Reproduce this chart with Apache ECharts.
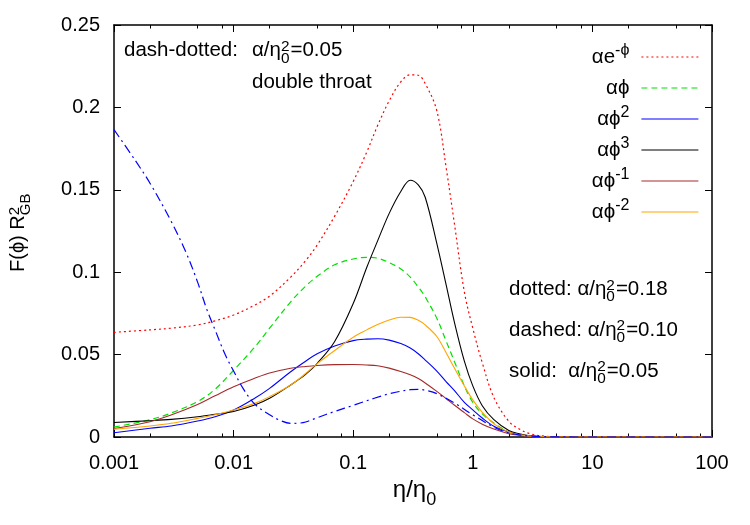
<!DOCTYPE html>
<html><head><meta charset="utf-8">
<script src="https://cdn.jsdelivr.net/npm/echarts@6/dist/echarts.min.js"></script>
<style>html,body{margin:0;padding:0;background:#fff}#chart{width:750px;height:525px}</style>
</head><body><div id="chart"></div>
<script>
// ---------------- data ----------------
const eta = [0.001, 0.002, 0.003, 0.005, 0.007, 0.01, 0.015, 0.02, 0.03, 0.04, 0.05, 0.07, 0.1, 0.13, 0.16, 0.2, 0.25, 0.3, 0.35, 0.4, 0.5, 0.6, 0.7, 0.85, 1, 1.2, 1.5, 2, 2.5, 3, 4, 6, 10, 100];
const expPhi = [0.0635, 0.065, 0.066, 0.068, 0.0705, 0.074, 0.080, 0.0855, 0.097, 0.107, 0.1165, 0.134, 0.155, 0.173, 0.189, 0.204, 0.2155, 0.2198, 0.2195, 0.2145, 0.198, 0.163, 0.13, 0.088, 0.066, 0.045, 0.024, 0.0095, 0.0045, 0.002, 0.0005, 0.0001, 0, 0];
const phi1 = [0.006, 0.0105, 0.0145, 0.0215, 0.029, 0.0405, 0.0545, 0.066, 0.082, 0.0915, 0.0975, 0.1045, 0.108, 0.109, 0.1085, 0.1058, 0.102, 0.097, 0.091, 0.085, 0.072, 0.058, 0.046, 0.031, 0.021, 0.014, 0.0085, 0.003, 0.0012, 0.0005, 0.0001, 0, 0, 0];
const phi2 = [0.0026, 0.0053, 0.0067, 0.0097, 0.0123, 0.0164, 0.0235, 0.0295, 0.0396, 0.046, 0.0505, 0.0552, 0.0585, 0.0594, 0.0596, 0.0588, 0.0567, 0.054, 0.0505, 0.0467, 0.040, 0.0335, 0.0283, 0.021, 0.0165, 0.0115, 0.0065, 0.003, 0.0013, 0.0006, 0.0001, 0, 0, 0];
const phi3 = [0.0088, 0.0099, 0.0107, 0.0123, 0.0138, 0.0155, 0.0194, 0.0235, 0.0316, 0.038, 0.0447, 0.058, 0.081, 0.103, 0.119, 0.1357, 0.149, 0.1558, 0.153, 0.1455, 0.1175, 0.092, 0.070, 0.046, 0.031, 0.019, 0.0105, 0.004, 0.0018, 0.0008, 0.0002, 0, 0, 0];
const phiM1 = [0.0052, 0.0093, 0.0133, 0.0197, 0.025, 0.0305, 0.0356, 0.0388, 0.0417, 0.0428, 0.0434, 0.0439, 0.044, 0.0437, 0.0432, 0.0418, 0.0398, 0.0378, 0.0355, 0.0328, 0.0277, 0.0232, 0.0194, 0.0148, 0.011, 0.0078, 0.0048, 0.002, 0.001, 0.0005, 0.0001, 0, 0, 0];
const phiM2 = [0.0047, 0.0067, 0.0083, 0.0113, 0.0135, 0.0164, 0.0204, 0.0245, 0.0316, 0.0385, 0.0445, 0.0525, 0.0605, 0.065, 0.0683, 0.071, 0.0727, 0.0726, 0.0708, 0.068, 0.061, 0.051, 0.042, 0.031, 0.0225, 0.015, 0.008, 0.003, 0.0013, 0.0006, 0.0001, 0, 0, 0];
// double throat (dash-dotted)
const throatEta = [0.001, 0.0015, 0.002, 0.003, 0.004, 0.005, 0.006, 0.007, 0.0085, 0.01, 0.012, 0.015, 0.02, 0.025, 0.03, 0.035, 0.04, 0.05, 0.07, 0.1, 0.15, 0.2, 0.3, 0.35, 0.4, 0.5, 0.7, 1, 1.5, 2, 3, 5, 10, 100];
const throat = [0.1865, 0.168, 0.154, 0.131, 0.112, 0.094, 0.077, 0.065, 0.050, 0.040, 0.0295, 0.020, 0.0135, 0.0098, 0.0083, 0.0084, 0.0091, 0.0117, 0.0155, 0.0192, 0.0235, 0.0262, 0.0287, 0.0289, 0.0284, 0.0263, 0.0207, 0.0135, 0.006, 0.0025, 0.0006, 0.0001, 0, 0];

const xTickValues = [0.001, 0.01, 0.1, 1, 10, 100];
const xTickLabels = ['0.001', '0.01', '0.1', '1', '10', '100'];
const xMinorMultipliers = [2, 5, 8];
const yTickLabels = ['0', '0.05', '0.1', '0.15', '0.2', '0.25'];

const PHI = '\u03d5';
const legendMain = ['\u03b1e', '\u03b1' + PHI, '\u03b1' + PHI, '\u03b1' + PHI, '\u03b1' + PHI, '\u03b1' + PHI];
const legendSup  = ['-' + PHI, '', '2', '3', '-1', '-2'];

// ---------------- helpers ----------------
const FONT = '"Liberation Sans", Arial, Helvetica, sans-serif';
const mctx = document.createElement('canvas').getContext('2d');
function tw(s, size) { mctx.font = size + 'px ' + FONT; return mctx.measureText(s).width; }
const MID = 0.31, SUPS = 0.75, SUPR = 0.27, SUBD = 0.3;
function mathGroup(parts, x, y, size, rotation) {
  const children = []; let cx = 0;
  function put(s, fs, dy) {
    children.push({ type: 'text', x: cx, y: dy - MID * fs, silent: true,
      style: { text: s, fontSize: fs, fontFamily: FONT, fill: '#000', align: 'left', verticalAlign: 'middle' } });
  }
  parts.forEach(p => {
    if (typeof p === 'string') { put(p, size, 0); cx += tw(p, size); }
    else {
      const fs = size * SUPS; let w = 0;
      if (p.sup) { put(p.sup, fs, -SUPR * size); w = Math.max(w, tw(p.sup, fs)); }
      if (p.sub) { put(p.sub, fs, SUBD * size); w = Math.max(w, tw(p.sub, fs)); }
      cx += w + 1;
    }
  });
  return { type: 'group', x: x, y: y, rotation: rotation || 0, children: children, silent: true, width: cx };
}
function mathWidth(parts, size) { return mathGroup(parts, 0, 0, size).width; }

const pair = (xs, ys) => xs.map((x, i) => [x, ys[i]]);
const names = legendMain.map((m, i) => m + (legendSup[i] ? '^' + legendSup[i] : ''));

const minorLog = [];
for (let d = -3; d < 2; d++) xMinorMultipliers.forEach(m => minorLog.push(d + Math.log10(m)));

const tickStyle = { show: true, inside: true, length: 7, lineStyle: { color: '#000', width: 1 } };
const minorTickStyle = { show: true, inside: true, length: 3.5, lineStyle: { color: '#000', width: 1 }, customValues: minorLog };
const lineAx = { show: true, onZero: false, lineStyle: { color: '#000', width: 1.5 } };

function xLabel(v) {
  const l = Math.log10(v);
  for (let i = 0; i < xTickValues.length; i++) if (Math.abs(Math.log10(xTickValues[i]) - l) < 0.01) return xTickLabels[i];
  return '';
}

const chart = echarts.init(document.getElementById('chart'), null, { renderer: 'canvas' });

const xTitleParts = ['\u03b7/\u03b7', { sub: '0' }];
const xTitleW = mathWidth(xTitleParts, 24);
const A = '\u03b1/\u03b7';
const TS = 20.5;

const option = {
  animation: false,
  backgroundColor: '#fff',
  grid: { left: 114, right: 38, top: 25, bottom: 88 },
  xAxis: [
    { type: 'log', logBase: 10, min: 0.001, max: 100, position: 'bottom', axisLine: lineAx, axisTick: tickStyle,
      splitLine: { show: false }, axisLabel: { color: '#000', fontSize: 20, fontFamily: FONT, margin: 16, formatter: xLabel } },
    { type: 'log', logBase: 10, min: 0.001, max: 100, position: 'top', axisLine: lineAx, axisTick: tickStyle,
      splitLine: { show: false }, axisLabel: { show: false } },
    { type: 'value', min: -3, max: 2, position: 'bottom', axisLine: { show: false, onZero: false }, axisTick: minorTickStyle,
      splitLine: { show: false }, axisLabel: { show: false } },
    { type: 'value', min: -3, max: 2, position: 'top', axisLine: { show: false, onZero: false }, axisTick: minorTickStyle,
      splitLine: { show: false }, axisLabel: { show: false } }
  ],
  yAxis: [
    { type: 'value', min: 0, max: 0.25, interval: 0.05, position: 'left', axisLine: lineAx, axisTick: tickStyle,
      splitLine: { show: false },
      axisLabel: { color: '#000', fontSize: 20, fontFamily: FONT, margin: 14, formatter: (v) => yTickLabels[Math.round(v / 0.05)] } },
    { type: 'value', min: 0, max: 0.25, interval: 0.05, position: 'right', axisLine: lineAx, axisTick: tickStyle,
      splitLine: { show: false }, axisLabel: { show: false } }
  ],
  legend: {
    data: names, orient: 'vertical', align: 'right', right: 51, top: 43, padding: 0,
    itemWidth: 57, itemHeight: 14, itemGap: 3, selectedMode: false,
    itemStyle: { opacity: 0 }, lineStyle: { width: 1.2 },
    textStyle: { color: '#000', fontSize: 20.5, fontFamily: FONT, lineHeight: 28,
      rich: { sup: { color: '#000', fontSize: 16, fontFamily: FONT, lineHeight: 19, verticalAlign: 'top' },
              g: { width: 7 } } },
    formatter: function (name) {
      const parts = name.split('^');
      return parts[0] + (parts[1] ? '{sup|' + parts[1] + '}' : '') + '{g| }';
    }
  },
  series: [
    { name: names[0], color: '#ff0000', data: pair(eta, expPhi), lineStyle: { width: 1.2, type: [2, 3] } },
    { name: names[1], color: '#00e000', data: pair(eta, phi1), lineStyle: { width: 1.2, type: [6, 4] } },
    { name: names[2], color: '#0000ff', data: pair(eta, phi2), lineStyle: { width: 1.1, type: 'solid' } },
    { name: names[3], color: '#000000', data: pair(eta, phi3), lineStyle: { width: 1.1, type: 'solid' } },
    { name: names[4], color: '#a52a2a', data: pair(eta, phiM1), lineStyle: { width: 1.1, type: 'solid' } },
    { name: names[5], color: '#ffa500', data: pair(eta, phiM2), lineStyle: { width: 1.1, type: 'solid' } },
    { name: 'double throat', color: '#0000ff', data: pair(throatEta, throat), lineStyle: { width: 1.2, type: [9, 4, 2, 4] } }
  ].map(s => Object.assign({ type: 'line', xAxisIndex: 0, yAxisIndex: 0, symbol: 'none', smooth: 0.35 }, s)),
  graphic: [
    mathGroup(['dash-dotted:'], 124, 57, TS),
    mathGroup([A, { sup: '2', sub: '0' }, '=0.05'], 252, 57, TS),
    mathGroup(['double throat'], 252, 89, TS),
    mathGroup(['dotted: ' + A, { sup: '2', sub: '0' }, '=0.18'], 509, 295.7, TS),
    mathGroup(['dashed: ' + A, { sup: '2', sub: '0' }, '=0.10'], 509, 336.5, TS),
    mathGroup(['solid:  ' + A, { sup: '2', sub: '0' }, '=0.05'], 509, 377.5, TS),
    mathGroup(['F(' + PHI + ') R', { sup: '2', sub: 'GB' }], 25, 272, 20, Math.PI / 2),
    mathGroup(xTitleParts, 415 - xTitleW / 2, 498, 24)
  ].map(g => { delete g.width; return g; })
};
chart.setOption(option);
</script>
</body></html>
